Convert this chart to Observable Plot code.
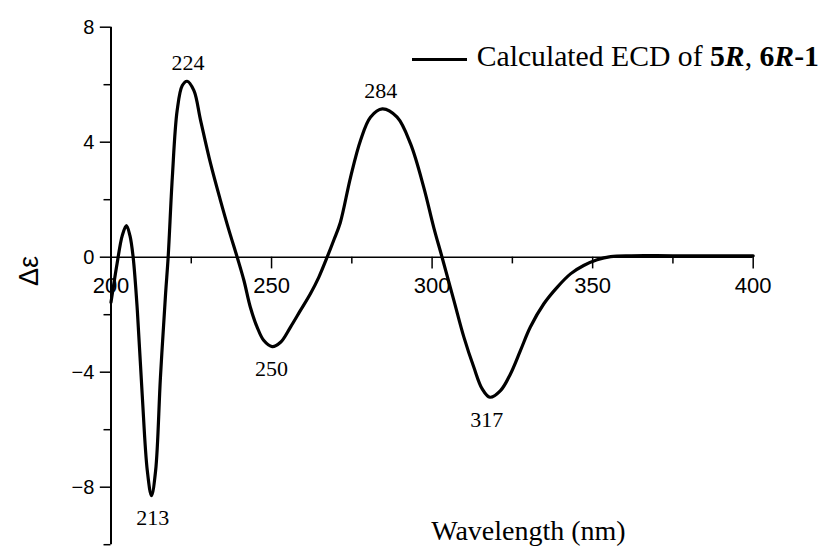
<!DOCTYPE html>
<html><head><meta charset="utf-8">
<script src="https://cdn.jsdelivr.net/npm/d3@7"></script>
<script src="https://cdn.jsdelivr.net/npm/@observablehq/plot@0.6"></script>
<style>
body{margin:0;background:#fff;}
#wrap{position:relative;width:826px;height:549px;}
#legline{position:absolute;left:411.7px;top:57.6px;width:55px;height:3.5px;background:#000;}
#legtext{position:absolute;left:476.7px;top:42.2px;font-family:"Liberation Serif","Times New Roman",serif;font-size:29.7px;line-height:29px;white-space:nowrap;color:#000;}
</style></head><body>
<div id="wrap"><div id="legline"></div><div id="legtext">Calculated ECD of <b>5<i>R</i></b>, <b>6<i>R</i>-1</b></div></div>
<script>
const wavelength = [200, 201.9, 203.5, 204.8, 205.9, 206.9, 208.2, 209.7, 211.3, 212.6, 213.9, 215.4, 217.0, 217.8, 219.1, 220.6, 222.2, 223.7, 225.8, 227.9, 231.0, 234.1, 236.7, 239.3, 241.4, 243.4, 245.5, 247.6, 250.2, 252.8, 255.9, 259.0, 262.1, 264.7, 267.3, 269.4, 271.4, 274.6, 277.7, 280.8, 284.5, 289.1, 293.3, 297.4, 300.5, 303.1, 306.8, 309.9, 313.0, 315.6, 318.0, 321.3, 324.4, 327.5, 330.6, 334.8, 339.0, 343.1, 347.2, 351.4, 355.6, 362.0, 375.0, 400.0];
const deltaEps   = [-1.57, -0.22, 0.75, 1.10, 0.75, 0.0, -1.85, -4.75, -7.42, -8.29, -7.42, -4.17, -1.27, 0.0, 2.78, 5.1, 5.97, 6.12, 5.8, 4.76, 3.26, 1.97, 0.95, 0.0, -0.81, -1.74, -2.43, -2.9, -3.11, -2.96, -2.43, -1.85, -1.27, -0.70, 0.0, 0.6, 1.2, 2.78, 4.06, 4.87, 5.16, 4.87, 3.94, 2.43, 1.04, 0.0, -1.51, -2.78, -3.83, -4.58, -4.87, -4.64, -4.06, -3.25, -2.43, -1.62, -1.04, -0.58, -0.29, -0.09, 0.02, 0.05, 0.05, 0.05];
const xTicksMajor = [200, 250, 300, 350, 400];
const xTicksMinor = [225, 275, 325, 375];
const yTicksMajor = [8, 4, 0, -4, -8];
const yTicksMinor = [6, 2, -2, -6, -10];
const peakWl     = [213, 224, 250, 284, 317];
const peakVal    = [-8.29, 6.12, -3.11, 5.16, -4.87];
const peakLabels = ["213", "224", "250", "284", "317"];
const peakSide   = ["below", "above", "below", "above", "below"];

const data = wavelength.map((w, i) => ({w, v: deltaEps[i]}));
const peaks = peakWl.map((w, i) => ({w, v: peakVal[i], label: peakLabels[i], side: peakSide[i]}));
const sans = "'Liberation Sans', Arial, sans-serif";
const serif = "'Liberation Serif', 'Times New Roman', serif";

const chart = Plot.plot({
  width: 826, height: 549,
  marginLeft: 110.5, marginRight: 73.3, marginTop: 26.7, marginBottom: 4.8,
  x: {domain: [200, 400], axis: null},
  y: {domain: [-10, 8], axis: null},
  style: {background: "white", color: "black", fontFamily: sans},
  marks: [
    Plot.ruleY([0], {x1: 200, x2: 400, stroke: "black", strokeWidth: 1.5}),
    Plot.ruleX(xTicksMajor, {x: d => d, y1: 0, y2: 0, insetBottom: -11.7, stroke: "black", strokeWidth: 1.5}),
    Plot.ruleX(xTicksMinor, {x: d => d, y1: 0, y2: 0, insetBottom: -6.7, stroke: "black", strokeWidth: 1.5}),
    Plot.text(xTicksMajor, {x: d => d, y: 0, text: d => String(d), lineAnchor: "top", dy: 20, fontSize: 22, fontFamily: sans, fill: "black"}),
    Plot.ruleX([200], {y1: -10, y2: 8, stroke: "black", strokeWidth: 2}),
    Plot.axisY(yTicksMajor, {tickSize: 10.7, tickPadding: 6, fontSize: 20, strokeWidth: 1.5, label: null, fontFamily: sans}),
    Plot.axisY(yTicksMinor, {tickSize: 7, text: null, strokeWidth: 1.5, label: null}),
    Plot.line(data, {x: "w", y: "v", curve: "catmull-rom", stroke: "black", strokeWidth: 3.2}),
    Plot.text(peaks.filter(d => d.side === "above"), {x: "w", y: "v", text: "label", lineAnchor: "bottom", dy: -11, fontSize: 22, fontFamily: serif, fill: "black"}),
    Plot.text(peaks.filter(d => d.side === "below"), {x: "w", y: "v", text: "label", lineAnchor: "top", dy: 14, fontSize: 22, fontFamily: serif, fill: "black"}),
    Plot.text(["Δε"], {frameAnchor: "left", dx: -82, rotate: -90, fontSize: 27, fontFamily: sans, fill: "black"}),
    Plot.text(["Wavelength (nm)"], {x: 330, frameAnchor: "bottom", lineAnchor: "bottom", dy: -5, fontSize: 28, fontFamily: serif, fill: "black"})
  ]
});
document.getElementById("wrap").prepend(chart);
</script>
</body></html>
